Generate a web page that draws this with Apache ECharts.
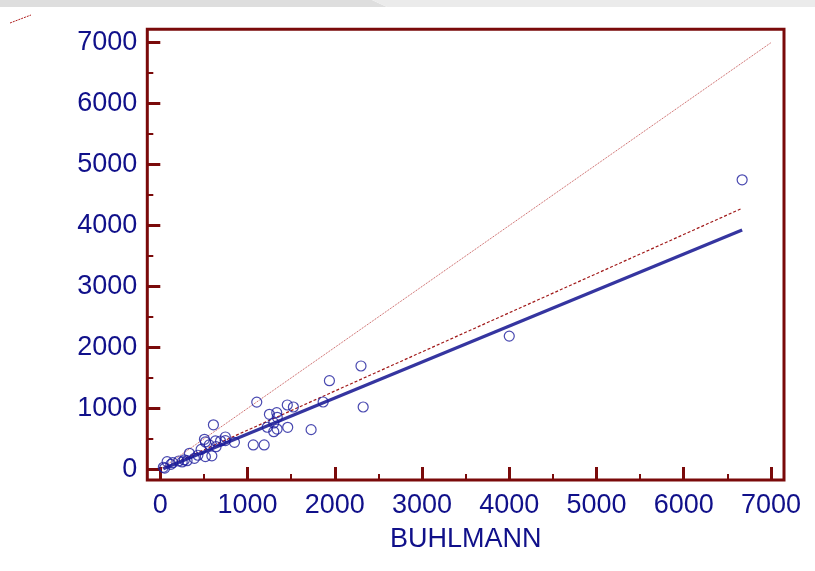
<!DOCTYPE html>
<html>
<head>
<meta charset="utf-8">
<script src="https://cdn.jsdelivr.net/npm/echarts@6/dist/echarts.min.js"></script>
<style>
html,body{margin:0;padding:0;background:#fff;}
#c{width:815px;height:571px;}
</style>
</head>
<body>
<div id="c"></div>
<script>
// ---- data ----
const xName = 'BUHLMANN';
const majorTicks = [0, 1000, 2000, 3000, 4000, 5000, 6000, 7000];
const minorTicks = [500, 1500, 2500, 3500, 4500, 5500, 6500];
const pointsX = [6670, 4000, 2300, 2325, 1938, 1866, 1105, 1455, 1525, 1728,
  608, 1250, 1334, 1340, 1300, 1225, 1460, 1300, 1338, 1065,
  1190, 849, 745, 690, 631, 516, 505, 638, 590, 516,
  467, 390, 333, 306, 275, 210, 141, 77, 34, 50,
  120, 250, 430, 560, 745];
const pointsY = [4750, 2185, 1695, 1022, 1454, 1104, 1102, 1055, 1022, 650,
  730, 902, 929, 853, 760, 690, 689, 617, 660, 399,
  399, 443, 530, 464, 465, 448, 492, 371, 220, 207,
  325, 180, 262, 141, 153, 136, 108, 125, 33, 20,
  80, 120, 230, 400, 470];
const identityLine = [[0, 0], [7000, 7000]];
const dashedLine = [[30, 19], [6670, 4283]];
const regressionLine = [[34, 10], [6670, 3925]];

const navy = '#10108a';
const frame = '#7a0a0a';

const chart = echarts.init(document.getElementById('c'), null, {renderer: 'canvas'});
const labelFont = {color: navy, fontSize: 27, fontFamily: 'Liberation Sans, Arial, sans-serif'};

function axisPair(kind, min, max) {
  const common = {type: 'value', min: min, max: max, splitLine: {show: false}, axisLine: {show: false, onZero: false}};
  const pos = kind === 'x' ? 'bottom' : 'left';
  return [
    Object.assign({}, common, {
      position: pos,
      axisTick: {show: true, inside: true, length: 13, customValues: majorTicks, lineStyle: {color: frame, width: 3}},
      axisLabel: Object.assign({show: true, customValues: majorTicks, margin: kind === 'x' ? 12 : 10,
        formatter: v => String(v)}, labelFont),
      name: kind === 'x' ? xName : '',
      nameLocation: 'middle',
      nameGap: 46,
      nameTextStyle: {color: navy, fontSize: 27, fontFamily: 'Liberation Sans, Arial, sans-serif'}
    }),
    Object.assign({}, common, {
      position: pos,
      axisTick: {show: true, inside: true, length: 6, customValues: minorTicks, lineStyle: {color: frame, width: 2}},
      axisLabel: {show: false}
    })
  ];
}

const pts = pointsX.map((x, i) => [x, pointsY[i]]);

chart.setOption({
  animation: false,
  backgroundColor: '#ffffff',
  grid: {left: 147.3, top: 29.3, right: 31, bottom: 91, show: true, borderWidth: 3, borderColor: frame, backgroundColor: 'transparent'},
  xAxis: axisPair('x', -150, 7150),
  yAxis: axisPair('y', -176, 7220),
  graphic: [
    {type: 'polygon', shape: {points: [[0, 0], [372, 0], [387, 7], [0, 7]]}, style: {fill: '#dedede'}, silent: true},
    {type: 'polygon', shape: {points: [[372, 0], [815, 0], [815, 7], [387, 7]]}, style: {fill: '#ebebeb'}, silent: true},
    {type: 'line', shape: {x1: 10, y1: 23, x2: 31, y2: 15}, style: {stroke: '#b02020', lineWidth: 1, lineDash: [2, 1]}, silent: true}
  ],
  series: [
    {type: 'line', data: identityLine, symbol: 'none', xAxisIndex: 0, yAxisIndex: 0,
      lineStyle: {color: '#b83030', width: 1, type: [1, 1], opacity: 0.85}, z: 2},
    {type: 'line', data: dashedLine, symbol: 'none', xAxisIndex: 0, yAxisIndex: 0,
      lineStyle: {color: '#a01818', width: 1.2, type: [3, 2]}, z: 2},
    {type: 'line', data: regressionLine, symbol: 'none', xAxisIndex: 0, yAxisIndex: 0,
      lineStyle: {color: '#3535a0', width: 3.2}, z: 3},
    {type: 'scatter', data: pts, xAxisIndex: 0, yAxisIndex: 0, symbol: 'circle', symbolSize: 10,
      itemStyle: {color: 'transparent', borderColor: '#1c1c9c', borderWidth: 1.2}, z: 4}
  ]
});
</script>
</body>
</html>
